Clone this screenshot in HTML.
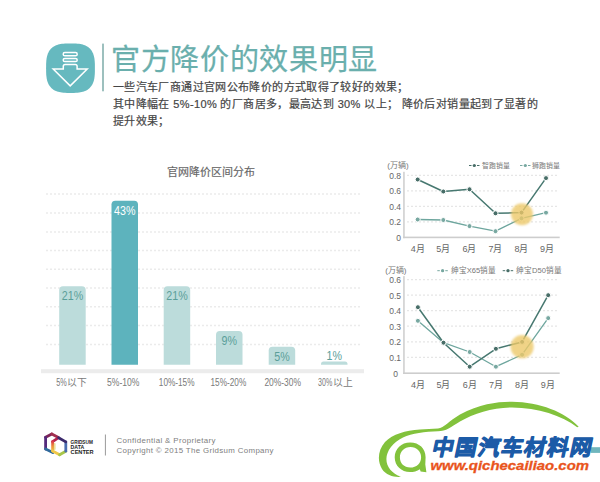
<!DOCTYPE html>
<html lang="zh-CN"><head><meta charset="utf-8">
<style>
html,body{margin:0;padding:0;background:#fff;}
body{width:600px;height:482px;position:relative;overflow:hidden;font-family:"Liberation Sans",sans-serif;}
.abs{position:absolute;white-space:nowrap;}
#title{left:111px;top:40px;font-size:29px;letter-spacing:0.65px;color:#6aafad;-webkit-text-stroke:0.25px #6aafad;line-height:40px;}
.body{left:113px;font-size:11px;letter-spacing:0.37px;color:#454545;line-height:16px;-webkit-text-stroke:0.2px #454545;}
svg{position:absolute;left:0;top:0;}
</style></head>
<body>
<svg width="600" height="482" viewBox="0 0 600 482" style="z-index:-1">
<g fill="none" stroke="#efefef" stroke-width="1">
<path d="M284,392 C300,412 340,434 402,447"/>
<path d="M288,384 C320,395 360,401 402,403"/>
<path d="M296,372 C330,374 370,371 402,368"/>
<path d="M352,326 C370,322 388,320 404,318"/>
<path d="M556,300 C575,306 590,314 600,322"/>
<path d="M560,330 C575,336 590,342 600,350"/>
</g>
</svg>
<!-- icon -->
<svg width="600" height="482" viewBox="0 0 600 482">
  <path d="M94.90,68.20 L94.88,71.66 L94.81,73.68 L94.70,75.37 L94.54,76.87 L94.34,78.23 L94.10,79.49 L93.81,80.66 L93.47,81.76 L93.09,82.79 L92.67,83.76 L92.20,84.67 L91.68,85.53 L91.12,86.34 L90.52,87.10 L89.87,87.80 L89.17,88.46 L88.42,89.08 L87.62,89.65 L86.77,90.17 L85.87,90.64 L84.91,91.07 L83.89,91.46 L82.81,91.79 L81.65,92.09 L80.41,92.34 L79.06,92.54 L77.58,92.70 L75.91,92.81 L73.91,92.88 L70.50,92.90 L67.09,92.88 L65.09,92.81 L63.42,92.70 L61.94,92.54 L60.59,92.34 L59.35,92.09 L58.19,91.79 L57.11,91.46 L56.09,91.07 L55.13,90.64 L54.23,90.17 L53.38,89.65 L52.58,89.08 L51.83,88.46 L51.13,87.80 L50.48,87.10 L49.88,86.34 L49.32,85.53 L48.80,84.67 L48.33,83.76 L47.91,82.79 L47.53,81.76 L47.19,80.66 L46.90,79.49 L46.66,78.23 L46.46,76.87 L46.30,75.37 L46.19,73.68 L46.12,71.66 L46.10,68.20 L46.12,64.74 L46.19,62.72 L46.30,61.03 L46.46,59.53 L46.66,58.17 L46.90,56.91 L47.19,55.74 L47.53,54.64 L47.91,53.61 L48.33,52.64 L48.80,51.73 L49.32,50.87 L49.88,50.06 L50.48,49.30 L51.13,48.60 L51.83,47.94 L52.58,47.32 L53.38,46.75 L54.23,46.23 L55.13,45.76 L56.09,45.33 L57.11,44.94 L58.19,44.61 L59.35,44.31 L60.59,44.06 L61.94,43.86 L63.42,43.70 L65.09,43.59 L67.09,43.52 L70.50,43.50 L73.91,43.52 L75.91,43.59 L77.58,43.70 L79.06,43.86 L80.41,44.06 L81.65,44.31 L82.81,44.61 L83.89,44.94 L84.91,45.33 L85.87,45.76 L86.77,46.23 L87.62,46.75 L88.42,47.32 L89.17,47.94 L89.87,48.60 L90.52,49.30 L91.12,50.06 L91.68,50.87 L92.20,51.73 L92.67,52.64 L93.09,53.61 L93.47,54.64 L93.81,55.74 L94.10,56.91 L94.34,58.17 L94.54,59.53 L94.70,61.03 L94.81,62.72 L94.88,64.74 Z" fill="#66b9bf"/>
  <g fill="none" stroke="#fff" stroke-width="1.5" stroke-linejoin="miter">
    <rect x="63.2" y="52.6" width="14" height="3.2" rx="1.6"/>
    <rect x="63.2" y="58.4" width="14" height="3.2" rx="1.6"/>
    <path d="M63.3,69.1 L63.3,66.2 Q63.3,64.4 65.1,64.4 L75.3,64.4 Q77.1,64.4 77.1,66.2 L77.1,69.1 L87.2,69.1 L70.2,85.9 L53.2,69.1 Z"/>
  </g>
  <rect x="102.2" y="43.6" width="1.6" height="47.7" fill="#86b1af"/>
</svg>
<div id="title" class="abs">官方降价的效果明显</div>
<div class="abs body" style="top:79px">一些汽车厂商通过官网公布降价的方式取得了较好的效果；</div>
<div class="abs body" style="top:96px">其中降幅在 5%-10% 的厂商居多，最高达到 30% 以上； 降价后对销量起到了显著的</div>
<div class="abs body" style="top:113px">提升效果；</div>
<svg width="600" height="482" viewBox="0 0 600 482">
<text x="210.5" y="176" text-anchor="middle" font-size="11" fill="#666" stroke="#666" stroke-width="0.15" letter-spacing="0">官网降价区间分布</text>
<line x1="46" y1="194" x2="360" y2="194" stroke="#ebebeb" stroke-width="1.4" stroke-dasharray="2 2"/>
<line x1="46" y1="213" x2="360" y2="213" stroke="#ebebeb" stroke-width="1.4" stroke-dasharray="2 2"/>
<line x1="46" y1="232" x2="360" y2="232" stroke="#ebebeb" stroke-width="1.4" stroke-dasharray="2 2"/>
<line x1="46" y1="250.5" x2="360" y2="250.5" stroke="#ebebeb" stroke-width="1.4" stroke-dasharray="2 2"/>
<line x1="46" y1="269.3" x2="360" y2="269.3" stroke="#ebebeb" stroke-width="1.4" stroke-dasharray="2 2"/>
<line x1="46" y1="288" x2="360" y2="288" stroke="#ebebeb" stroke-width="1.4" stroke-dasharray="2 2"/>
<line x1="46" y1="306.8" x2="360" y2="306.8" stroke="#ebebeb" stroke-width="1.4" stroke-dasharray="2 2"/>
<line x1="46" y1="325.5" x2="360" y2="325.5" stroke="#ebebeb" stroke-width="1.4" stroke-dasharray="2 2"/>
<line x1="46" y1="344.5" x2="360" y2="344.5" stroke="#ebebeb" stroke-width="1.4" stroke-dasharray="2 2"/>
<rect x="41" y="369.2" width="323" height="4" fill="#ececec"/>
<path d="M59.2,364.7 L59.2,290.0 Q59.2,286.2 63.0,286.2 L81.9,286.2 Q85.7,286.2 85.7,290.0 L85.7,364.7 Z" fill="#bcdcdb"/>
<text x="72.45" y="300.5" text-anchor="middle" font-size="12.6" fill="#5a9e99" transform="translate(72.45 0) scale(0.85 1) translate(-72.45 0)">21%</text>
<text x="56.3" y="386" font-size="10.5" fill="#7a7a7a" textLength="10.6" lengthAdjust="spacingAndGlyphs">5%</text><text x="67" y="386" font-size="9.8" fill="#7a7a7a">以下</text>
<path d="M111.5,364.7 L111.5,204.60000000000002 Q111.5,200.8 115.3,200.8 L134.2,200.8 Q138.0,200.8 138.0,204.60000000000002 L138.0,364.7 Z" fill="#5db3bd"/>
<text x="124.75" y="215.1" text-anchor="middle" font-size="12.6" fill="#fff" transform="translate(124.75 0) scale(0.85 1) translate(-124.75 0)">43%</text>
<text x="107" y="386" font-size="10.5" fill="#7a7a7a" textLength="32.5" lengthAdjust="spacingAndGlyphs">5%-10%</text>
<path d="M163.7,364.7 L163.7,290.0 Q163.7,286.2 167.5,286.2 L186.39999999999998,286.2 Q190.2,286.2 190.2,290.0 L190.2,364.7 Z" fill="#bcdcdb"/>
<text x="176.95" y="300.5" text-anchor="middle" font-size="12.6" fill="#5a9e99" transform="translate(176.95 0) scale(0.85 1) translate(-176.95 0)">21%</text>
<text x="158.8" y="386" font-size="10.5" fill="#7a7a7a" textLength="35.7" lengthAdjust="spacingAndGlyphs">10%-15%</text>
<path d="M216.0,364.7 L216.0,334.8 Q216.0,331.0 219.8,331.0 L238.7,331.0 Q242.5,331.0 242.5,334.8 L242.5,364.7 Z" fill="#bcdcdb"/>
<text x="229.25" y="345.3" text-anchor="middle" font-size="12.6" fill="#5a9e99" transform="translate(229.25 0) scale(0.85 1) translate(-229.25 0)">9%</text>
<text x="210.5" y="386" font-size="10.5" fill="#7a7a7a" textLength="35.7" lengthAdjust="spacingAndGlyphs">15%-20%</text>
<path d="M268.7,364.7 L268.7,350.6 Q268.7,346.8 272.5,346.8 L291.4,346.8 Q295.2,346.8 295.2,350.6 L295.2,364.7 Z" fill="#bcdcdb"/>
<text x="281.95" y="361.1" text-anchor="middle" font-size="12.6" fill="#5a9e99" transform="translate(281.95 0) scale(0.85 1) translate(-281.95 0)">5%</text>
<text x="264.4" y="386" font-size="10.5" fill="#7a7a7a" textLength="36.6" lengthAdjust="spacingAndGlyphs">20%-30%</text>
<path d="M321.0,364.7 L321.0,364.0 Q321.0,361.5 323.5,361.5 L345.0,361.5 Q347.5,361.5 347.5,364.0 L347.5,364.7 Z" fill="#bcdcdb"/>
<text x="334.25" y="360.3" text-anchor="middle" font-size="12.6" fill="#5a9e99" transform="translate(334.25 0) scale(0.85 1) translate(-334.25 0)">1%</text>
<text x="318" y="386" font-size="10.5" fill="#7a7a7a" textLength="14.2" lengthAdjust="spacingAndGlyphs">30%</text><text x="332.6" y="386" font-size="9.8" fill="#7a7a7a">以上</text>
</svg>
<svg width="600" height="482" viewBox="0 0 600 482">
<text x="387.3" y="168.3" font-size="8.1" fill="#777">(万辆)</text>
<line x1="407" y1="175.3" x2="559" y2="175.3" stroke="#e6e6e6" stroke-width="1.3" stroke-dasharray="2 2"/>
<line x1="407" y1="190.8" x2="559" y2="190.8" stroke="#e6e6e6" stroke-width="1.3" stroke-dasharray="2 2"/>
<line x1="407" y1="206.3" x2="559" y2="206.3" stroke="#e6e6e6" stroke-width="1.3" stroke-dasharray="2 2"/>
<line x1="407" y1="221.8" x2="559" y2="221.8" stroke="#e6e6e6" stroke-width="1.3" stroke-dasharray="2 2"/>
<text x="401" y="178.6" text-anchor="end" font-size="8.5" fill="#666">0.8</text>
<text x="401" y="194.1" text-anchor="end" font-size="8.5" fill="#666">0.6</text>
<text x="401" y="209.6" text-anchor="end" font-size="8.5" fill="#666">0.4</text>
<text x="401" y="225.1" text-anchor="end" font-size="8.5" fill="#666">0.2</text>
<text x="401" y="240.7" text-anchor="end" font-size="8.5" fill="#666">0</text>
<rect x="403.2" y="171.8" width="1.5" height="66.4" fill="#cdcdcd"/>
<rect x="403.2" y="236.6" width="156.5" height="1.6" fill="#cdcdcd"/>
<text x="417.7" y="252.4" text-anchor="middle" font-size="9" fill="#666">4月</text>
<text x="443.3" y="252.4" text-anchor="middle" font-size="9" fill="#666">5月</text>
<text x="469.5" y="252.4" text-anchor="middle" font-size="9" fill="#666">6月</text>
<text x="495.5" y="252.4" text-anchor="middle" font-size="9" fill="#666">7月</text>
<text x="521.5" y="252.4" text-anchor="middle" font-size="9" fill="#666">8月</text>
<text x="547.0" y="252.4" text-anchor="middle" font-size="9" fill="#666">9月</text>
<polyline points="417.7,219.5 443.3,220 469.5,226.1 495.5,231.2 521.5,218.3 546.0,212.7" fill="none" stroke="#6ea69e" stroke-width="1.3" stroke-linejoin="round"/>
<circle cx="417.7" cy="219.5" r="2.5" fill="#78a8a1" stroke="#fff" stroke-width="1"/>
<circle cx="443.3" cy="220" r="2.5" fill="#78a8a1" stroke="#fff" stroke-width="1"/>
<circle cx="469.5" cy="226.1" r="2.5" fill="#78a8a1" stroke="#fff" stroke-width="1"/>
<circle cx="495.5" cy="231.2" r="2.5" fill="#78a8a1" stroke="#fff" stroke-width="1"/>
<circle cx="521.5" cy="218.3" r="2.5" fill="#78a8a1" stroke="#fff" stroke-width="1"/>
<circle cx="546.0" cy="212.7" r="2.5" fill="#78a8a1" stroke="#fff" stroke-width="1"/>
<polyline points="417.7,179.5 443.3,191.5 469.5,189.3 495.5,213.3 521.5,212.6 546.0,178.1" fill="none" stroke="#477870" stroke-width="1.5" stroke-linejoin="round"/>
<circle cx="417.7" cy="179.5" r="2.5" fill="#486e68" stroke="#fff" stroke-width="1"/>
<circle cx="443.3" cy="191.5" r="2.5" fill="#486e68" stroke="#fff" stroke-width="1"/>
<circle cx="469.5" cy="189.3" r="2.5" fill="#486e68" stroke="#fff" stroke-width="1"/>
<circle cx="495.5" cy="213.3" r="2.5" fill="#486e68" stroke="#fff" stroke-width="1"/>
<circle cx="521.5" cy="212.6" r="2.5" fill="#486e68" stroke="#fff" stroke-width="1"/>
<circle cx="546.0" cy="178.1" r="2.5" fill="#486e68" stroke="#fff" stroke-width="1"/>
<line x1="469" y1="165.5" x2="479.5" y2="165.5" stroke="#486e68" stroke-width="1" stroke-dasharray="2.5 1.5"/>
<circle cx="474.3" cy="165.5" r="1.6" fill="#486e68"/>
<text x="482.4" y="168.1" font-size="6.9" fill="#777">智跑销量</text>
<line x1="520" y1="165.5" x2="530.5" y2="165.5" stroke="#78a8a1" stroke-width="1" stroke-dasharray="2.5 1.5"/>
<circle cx="525.3" cy="165.5" r="1.6" fill="#78a8a1"/>
<text x="531.6" y="168.1" font-size="6.9" fill="#777">狮跑销量</text>
<text x="385.2" y="272.7" font-size="8.0" fill="#777">(万辆)</text>
<line x1="407" y1="279.6" x2="559" y2="279.6" stroke="#e6e6e6" stroke-width="1.3" stroke-dasharray="2 2"/>
<line x1="407" y1="295.2" x2="559" y2="295.2" stroke="#e6e6e6" stroke-width="1.3" stroke-dasharray="2 2"/>
<line x1="407" y1="310.7" x2="559" y2="310.7" stroke="#e6e6e6" stroke-width="1.3" stroke-dasharray="2 2"/>
<line x1="407" y1="326.2" x2="559" y2="326.2" stroke="#e6e6e6" stroke-width="1.3" stroke-dasharray="2 2"/>
<line x1="407" y1="341.8" x2="559" y2="341.8" stroke="#e6e6e6" stroke-width="1.3" stroke-dasharray="2 2"/>
<line x1="407" y1="357.3" x2="559" y2="357.3" stroke="#e6e6e6" stroke-width="1.3" stroke-dasharray="2 2"/>
<text x="401" y="282.9" text-anchor="end" font-size="8.5" fill="#666">0.6</text>
<text x="401" y="298.5" text-anchor="end" font-size="8.5" fill="#666">0.5</text>
<text x="401" y="314.0" text-anchor="end" font-size="8.5" fill="#666">0.4</text>
<text x="401" y="329.5" text-anchor="end" font-size="8.5" fill="#666">0.3</text>
<text x="401" y="345.1" text-anchor="end" font-size="8.5" fill="#666">0.2</text>
<text x="401" y="360.6" text-anchor="end" font-size="8.5" fill="#666">0.1</text>
<text x="395.7" y="377" text-anchor="middle" font-size="8.5" fill="#666">0</text>
<rect x="403.2" y="276.1" width="1.5" height="97.9" fill="#cdcdcd"/>
<rect x="403.2" y="372.4" width="156.5" height="1.6" fill="#cdcdcd"/>
<text x="417.9" y="388.2" text-anchor="middle" font-size="9" fill="#666">4月</text>
<text x="443.5" y="388.2" text-anchor="middle" font-size="9" fill="#666">5月</text>
<text x="469.7" y="388.2" text-anchor="middle" font-size="9" fill="#666">6月</text>
<text x="495.9" y="388.2" text-anchor="middle" font-size="9" fill="#666">7月</text>
<text x="522.1" y="388.2" text-anchor="middle" font-size="9" fill="#666">8月</text>
<text x="547.8000000000001" y="388.2" text-anchor="middle" font-size="9" fill="#666">9月</text>
<polyline points="417.9,320.8 443.5,342.7 469.7,352 495.9,366.7 522.1,354.7 548.2,318.1" fill="none" stroke="#6ea69e" stroke-width="1.3" stroke-linejoin="round"/>
<circle cx="417.9" cy="320.8" r="2.5" fill="#78a8a1" stroke="#fff" stroke-width="1"/>
<circle cx="443.5" cy="342.7" r="2.5" fill="#78a8a1" stroke="#fff" stroke-width="1"/>
<circle cx="469.7" cy="352" r="2.5" fill="#78a8a1" stroke="#fff" stroke-width="1"/>
<circle cx="495.9" cy="366.7" r="2.5" fill="#78a8a1" stroke="#fff" stroke-width="1"/>
<circle cx="522.1" cy="354.7" r="2.5" fill="#78a8a1" stroke="#fff" stroke-width="1"/>
<circle cx="548.2" cy="318.1" r="2.5" fill="#78a8a1" stroke="#fff" stroke-width="1"/>
<polyline points="417.9,307.2 443.5,342.7 469.7,366.7 495.9,348.8 522.1,341.9 548.2,295.2" fill="none" stroke="#477870" stroke-width="1.5" stroke-linejoin="round"/>
<circle cx="417.9" cy="307.2" r="2.5" fill="#486e68" stroke="#fff" stroke-width="1"/>
<circle cx="443.5" cy="342.7" r="2.5" fill="#486e68" stroke="#fff" stroke-width="1"/>
<circle cx="469.7" cy="366.7" r="2.5" fill="#486e68" stroke="#fff" stroke-width="1"/>
<circle cx="495.9" cy="348.8" r="2.5" fill="#486e68" stroke="#fff" stroke-width="1"/>
<circle cx="522.1" cy="341.9" r="2.5" fill="#486e68" stroke="#fff" stroke-width="1"/>
<circle cx="548.2" cy="295.2" r="2.5" fill="#486e68" stroke="#fff" stroke-width="1"/>
<line x1="437.3" y1="270.7" x2="447.8" y2="270.7" stroke="#78a8a1" stroke-width="1" stroke-dasharray="2.5 1.5"/>
<circle cx="442.6" cy="270.7" r="1.6" fill="#78a8a1"/>
<text x="450.7" y="273.3" font-size="7.6" fill="#777">绅宝X65销量</text>
<line x1="502.7" y1="270.7" x2="513.2" y2="270.7" stroke="#486e68" stroke-width="1" stroke-dasharray="2.5 1.5"/>
<circle cx="508.0" cy="270.7" r="1.6" fill="#486e68"/>
<text x="516" y="273.3" font-size="7.6" fill="#777">绅宝D50销量</text>
<defs><filter id="bl" x="-30%" y="-30%" width="160%" height="160%"><feGaussianBlur stdDeviation="0.9"/></filter></defs>
<circle cx="522" cy="214.2" r="11" fill="#edc96b" opacity="0.8" filter="url(#bl)"/>
<circle cx="522.1" cy="346.7" r="11.6" fill="#edc96b" opacity="0.8" filter="url(#bl)"/>
</svg>
<svg width="600" height="482" viewBox="0 0 600 482">
<!-- gridsum logo -->
<defs><linearGradient id="lg1" gradientUnits="userSpaceOnUse" x1="0" y1="441" x2="0" y2="452"><stop offset="0" stop-color="#d8344a"/><stop offset="0.5" stop-color="#f0903a"/><stop offset="1" stop-color="#e8c84a"/></linearGradient></defs>
<g fill="none" stroke-width="2.8" stroke-linecap="round" stroke-linejoin="round">
  <path d="M51.8,433.9 L45.6,437.3" stroke="#7e2459"/>
  <path d="M45.6,437.3 L45.6,449" stroke="#542a7c"/>
  <path d="M45.6,449 L52.8,452.6" stroke="#2f6a9c"/>
  <path d="M51.8,433.9 L57.5,437" stroke="#a23050"/>
  <path d="M58.6,437.7 L52.6,441.7" stroke="#b4234f"/>
  <path d="M52.6,441.7 L52.6,451" stroke="url(#lg1)"/>
  <path d="M54.6,444 L54.6,449" stroke="#d9c855" stroke-width="2" opacity="0.6"/>
  <path d="M52.6,451 L59.6,454.8" stroke="#f0c84a"/>
  <path d="M59.6,454.8 L65.8,451.2" stroke="#a7c64a"/>
  <path d="M65.8,451.2 L65.8,441.9" stroke="#4a6db0"/>
  <path d="M65.8,441.9 L58.6,437.7" stroke="#3b2a6c"/>
</g>
<g font-family="Liberation Sans" font-weight="bold" font-size="5.2" fill="#222">
  <text x="70.6" y="443.6" textLength="22.2" lengthAdjust="spacingAndGlyphs">GRIDSUM</text>
  <text x="70.6" y="448.6">DATA</text>
  <text x="70.6" y="453.7" textLength="23" lengthAdjust="spacingAndGlyphs">CENTER</text>
</g>
<rect x="104.9" y="434.5" width="1" height="21" fill="#9a9a9a"/>
<g font-family="Liberation Sans" font-size="7.9" fill="#808080">
  <text x="116.5" y="443" textLength="99" lengthAdjust="spacing">Confidential &amp; Proprietary</text>
  <text x="116.5" y="453.4" textLength="157" lengthAdjust="spacing">Copyright © 2015 The Gridsum Company</text>
</g>
<!-- watermark -->
<rect x="590.5" y="447.2" width="9.5" height="5.7" fill="#6fb6bd"/>
<g fill="#82c23c">
  <path d="M401,476.8 C395,477.6 386,475.5 382,469 C377,461 378,450 385,442 C393,434 405,430.5 420,429.5 L438,428.4 C444,427.8 449,421 460,414.5 C480,404 498,401.6 512,401.8 C540,402.3 565,412 578.7,426.8 L577.2,427.2 C562,415.5 538,407.5 512,407.4 C493,407.5 474,413 460,421.5 C451,427 446,431.3 438,431.3 C425,431.6 412,433.5 403,437.5 C393,442 386.5,451 386.4,459 C386.4,467 392,473.5 401,476.8 Z"/>
  <path fill-rule="evenodd" d="M410.2,442.5 C419.2,442.5 425.6,448.6 425.6,457.2 L425.3,464.5 L426.4,472.2 L420.6,471.5 L419.9,469.3 C417,471.3 413.5,472.1 410,472.1 C401.3,472.1 394.7,465.8 394.7,457.3 C394.7,448.8 401.3,442.5 410.2,442.5 Z M410.5,447 C404.4,447 399.9,451.5 399.9,457.3 C399.9,463.3 404.1,467.6 410.2,467.6 C416.6,467.6 421.1,463.2 421.1,457.2 C421.1,451.4 416.6,447 410.5,447 Z"/>
</g>
<text x="431" y="455.5" font-family="Liberation Sans" font-weight="bold" font-size="21.5" fill="#1c5ba7" stroke="#1c5ba7" stroke-width="1.1" stroke-linejoin="round" transform="translate(431 455.5) skewX(-12) translate(-431 -455.5)" letter-spacing="1.2">中国汽车材料网</text>
<text x="430.5" y="469.5" font-family="Liberation Sans" font-weight="bold" font-style="italic" font-size="13" fill="#e9541c" stroke="#e9541c" stroke-width="0.3" textLength="158.5" lengthAdjust="spacingAndGlyphs">www.qichecailiao.com</text>
</svg>
</body></html>
